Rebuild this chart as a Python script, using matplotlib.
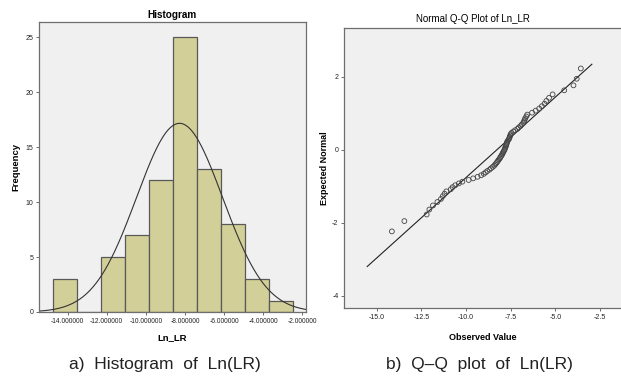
import numpy as np
import matplotlib
matplotlib.use("Agg")
import matplotlib.pyplot as plt
from statistics import NormalDist

# ---------------- data ----------------
hist_edges = [-14.77, -13.54, -12.31, -11.08, -9.85, -8.62, -7.39, -6.16, -4.93, -3.70, -2.47]
hist_counts = [3, 0, 5, 7, 12, 25, 13, 8, 3, 1]
fit_mean = -8.28
fit_std = 2.20
hist_xticks = [-14, -12, -10, -8, -6, -4, -2]
hist_xticklabels = ["-14.000000", "-12.000000", "-10.000000", "-8.000000",
                    "-6.000000", "-4.000000", "-2.000000"]
hist_yticks = [0, 5, 10, 15, 20, 25]

qq_observed = [-14.15, -13.45, -12.20, -12.05, -11.85, -11.60, -11.40, -11.30, -11.20, -11.10,
               -10.85, -10.75, -10.60, -10.40, -10.20, -9.85, -9.60, -9.35, -9.15, -9.00,
               -8.90, -8.80, -8.68, -8.60, -8.50, -8.42, -8.36, -8.30, -8.25, -8.20,
               -8.15, -8.10, -8.07, -8.02, -7.98, -7.95, -7.92, -7.88, -7.85, -7.82,
               -7.80, -7.77, -7.75, -7.73, -7.71, -7.69, -7.65, -7.60, -7.57, -7.55,
               -7.52, -7.50, -7.45, -7.35, -7.25, -7.12, -7.05, -6.95, -6.88, -6.80,
               -6.75, -6.72, -6.68, -6.62, -6.57, -6.30, -6.10, -5.90, -5.75, -5.60,
               -5.50, -5.35, -5.15, -4.50, -3.98, -3.80, -3.57]
qq_line_x = [-15.53, -2.95]
qq_xticks = [-15.0, -12.5, -10.0, -7.5, -5.0, -2.5]
qq_yticks = [-4, -2, 0, 2]

# ---------------- style ----------------
W, H = 621, 381
fig = plt.figure(figsize=(W / 100, H / 100), dpi=100)
fig.patch.set_facecolor("white")
BG = "#f0f0f0"
BAR = "#d3cf98"
EDGE = "#595959"
FRAME = "#6e6e6e"
REG = ["Liberation Sans", "DejaVu Sans"]
NARROW = ["Liberation Sans Narrow", "Liberation Sans", "DejaVu Sans"]


def px_axes(l, t, r, b):
    return fig.add_axes([l / W, 1 - b / H, (r - l) / W, (b - t) / H])


# ---------------- histogram ----------------
ax1 = px_axes(39, 22, 306, 312)
ax1.set_facecolor(BG)
edges = np.array(hist_edges)
widths = np.diff(edges)
ax1.bar(edges[:-1], hist_counts, width=widths, align="edge", color=BAR,
        edgecolor=EDGE, linewidth=0.9)
xs = np.linspace(-15.46, -1.82, 400)
nd = NormalDist(fit_mean, fit_std)
n_total = sum(hist_counts)
ys = [n_total * widths.mean() * nd.pdf(v) for v in xs]
ax1.plot(xs, ys, color="#333333", linewidth=0.8)
ax1.set_xlim(-15.46, -1.82)
ax1.set_ylim(0, 26.4)
ax1.set_xticks(hist_xticks)
ax1.set_xticklabels(hist_xticklabels, family=REG, fontsize=4.8, color="#222222")
ax1.set_yticks(hist_yticks)
ax1.set_yticklabels([str(v) for v in hist_yticks], family=REG, fontsize=5, color="#222222")
ax1.tick_params(length=2.5, width=0.6, color="#555555", pad=1.5)
for s in ax1.spines.values():
    s.set_color(FRAME)
    s.set_linewidth(0.9)
ax1.set_xlabel("Ln_LR", family=REG, fontsize=6.8, fontweight="bold", labelpad=6)
ax1.set_ylabel("Frequency", family=REG, fontsize=6.8, fontweight="bold", labelpad=4)
ax1.set_title("Histogram", family=REG, fontsize=7.2, fontweight="bold", pad=3)

# ---------------- Q-Q plot ----------------
ax2 = px_axes(344, 28, 621, 308)
ax2.set_facecolor(BG)
n = len(qq_observed)
std_norm = NormalDist()
qq_expected = [std_norm.inv_cdf((i + 1) / (n + 1)) for i in range(n)]
ax2.scatter(qq_observed, qq_expected, s=12, facecolors="none", edgecolors="#444444",
            linewidths=0.6, zorder=3)
lx = np.array(qq_line_x)
ax2.plot(lx, (lx - fit_mean) / 2.27, color="#222222", linewidth=0.8, zorder=2)
ax2.set_xlim(-16.83, -1.32)
ax2.set_ylim(-4.33, 3.34)
ax2.set_xticks(qq_xticks)
ax2.set_xticklabels([f"{v:.1f}" for v in qq_xticks], family=NARROW, fontsize=5, color="#222222")
ax2.set_yticks(qq_yticks)
ax2.set_yticklabels([str(v) for v in qq_yticks], family=NARROW, fontsize=5, color="#222222")
ax2.tick_params(length=2.5, width=0.6, color="#555555", pad=1.5)
for k, s in ax2.spines.items():
    s.set_color(FRAME)
    s.set_linewidth(0.9)
ax2.spines["right"].set_visible(False)
ax2.set_xlabel("Observed Value", family=NARROW, fontsize=6.5, fontweight="bold", labelpad=9)
ax2.set_ylabel("Expected Normal", family=NARROW, fontsize=6.5, fontweight="bold", labelpad=2)
fig.text(473 / W, 1 - 19 / H, "Normal Q-Q Plot of Ln_LR", family=NARROW, fontsize=7,
         ha="center", va="center")

# ---------------- captions ----------------
fig.text(165 / W, 1 - 364 / H, "a)  Histogram  of  Ln(LR)", family=REG, fontsize=12.5,
         ha="center", va="center", color="#222222")
fig.text(479 / W, 1 - 364 / H, "b)  Q–Q  plot  of  Ln(LR)", family=REG, fontsize=12.5,
         ha="center", va="center", color="#222222")

fig.savefig("out.png", dpi=100)
